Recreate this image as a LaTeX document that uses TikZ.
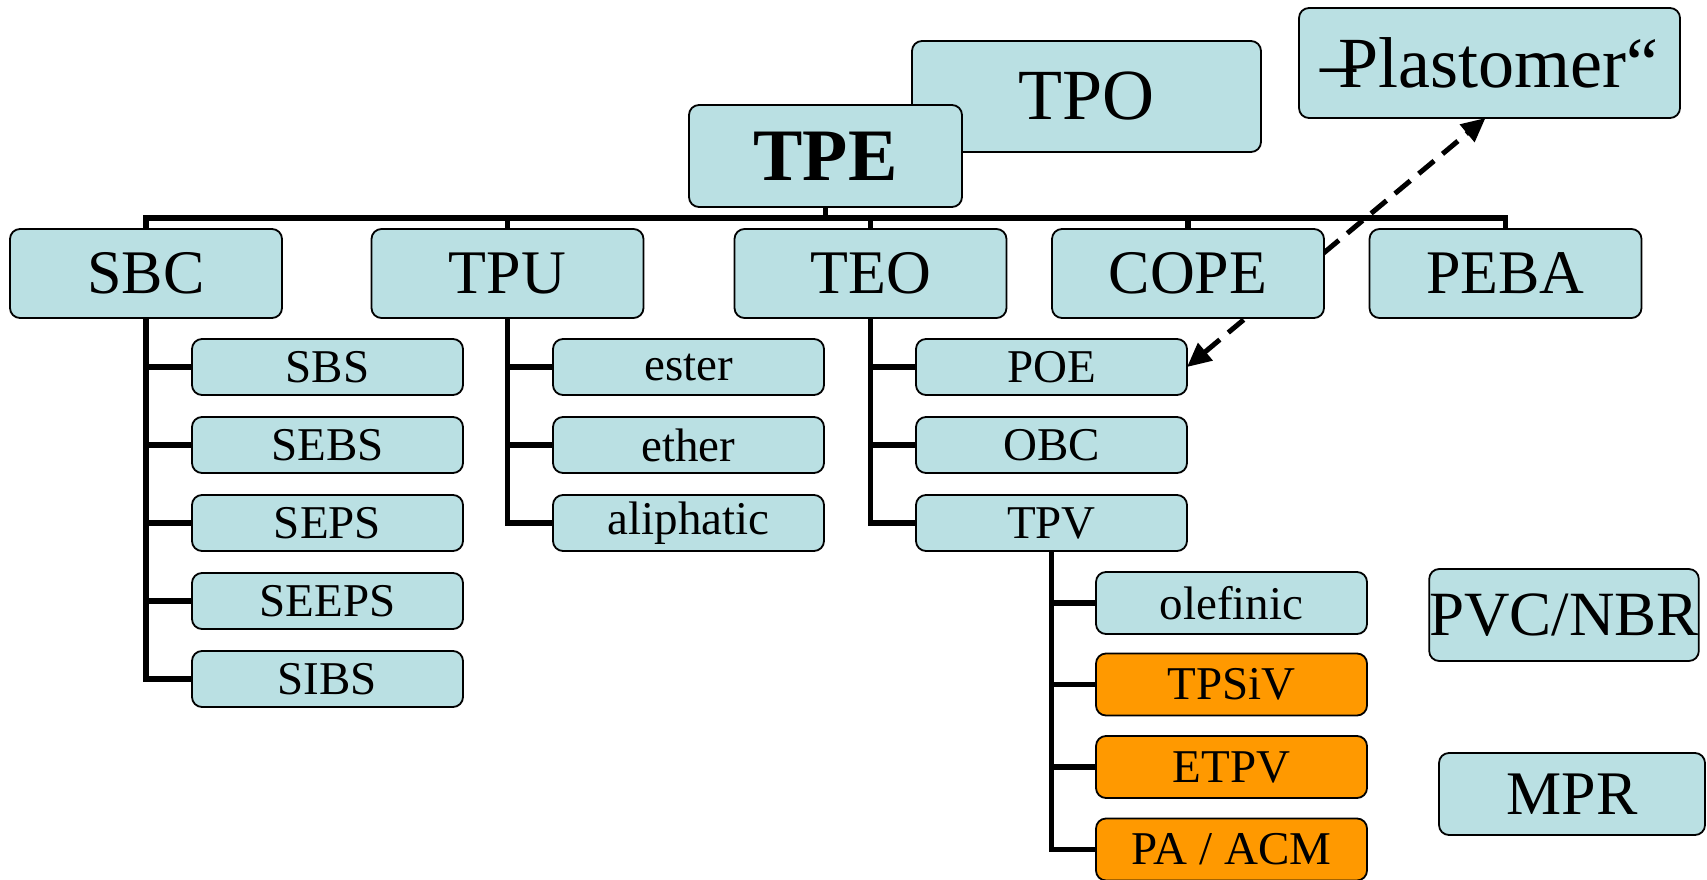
\documentclass[tikz,border=0pt]{standalone}
\usepackage{fontspec}
\setmainfont{Liberation Serif}
\usetikzlibrary{arrows.meta,backgrounds}
\definecolor{boxblue}{RGB}{186,224,227}
\definecolor{boxorange}{RGB}{255,153,0}
\tikzset{
  base/.style={draw=black, line width=1.8pt, rounded corners=10pt, fill=boxblue,
    inner sep=0pt, outer sep=0pt, align=center, text=black},
  lvlone/.style={base, minimum width=272pt, minimum height=89pt, font=\fontsize{62}{62}\selectfont},
  lvltwo/.style={base, minimum width=271pt, minimum height=56pt, font=\fontsize{47}{47}\selectfont},
  lvlthree/.style={base, minimum width=271pt, minimum height=62pt, font=\fontsize{47}{47}\selectfont},
  orangebox/.style={fill=boxorange},
  conn/.style={draw=black, line width=5.5pt},
  dasharrow/.style={draw=black, line width=5pt, dash pattern=on 20pt off 11pt,
    {Triangle[length=24pt,width=22pt]}-{Triangle[length=24pt,width=22pt]}}
}
\begin{document}
\begin{tikzpicture}[x=1pt,y=-1pt]
\useasboundingbox (0,0) rectangle (1707,880);
\begin{scope}
\clip (0,0) rectangle (1707,880);
% top boxes
\node[base, minimum width=349pt, minimum height=111pt, font=\fontsize{72}{72}\selectfont] (TPO) at (1086.5,96.5) {TPO};
\node[base, minimum width=273pt, minimum height=102pt, font=\fontsize{74}{74}\selectfont\bfseries] (TPE) at (825.5,156) {TPE};
\node[base, minimum width=381pt, minimum height=110pt, font=\fontsize{72}{72}\selectfont] (Plast) at (1489.5,63) {–\kern-0.25em Plastomer“};
% level one
\node[lvlone] (SBC) at (146,273.5) {SBC};
\node[lvlone] (TPU) at (507.5,273.5) {TPU};
\node[lvlone] (TEO) at (870.5,273.5) {TEO};
\node[lvlone] (COPE) at (1188,273.5) {COPE};
\node[lvlone] (PEBA) at (1505.5,273.5) {PEBA};
% SBC children
\node[lvltwo] (SBS) at (327.5,367) {SBS};
\node[lvltwo] (SEBS) at (327.5,445) {SEBS};
\node[lvltwo] (SEPS) at (327.5,523) {SEPS};
\node[lvltwo] (SEEPS) at (327.5,601) {SEEPS};
\node[lvltwo] (SIBS) at (327.5,679) {SIBS};
% TPU children
\node[lvltwo] (ester) at (688.5,367) {ester};
\node[lvltwo] (ether) at (688.5,445) {ether};
\node[lvltwo] (aliph) at (688.5,523) {aliphatic};
% TEO children
\node[lvltwo] (POE) at (1051.5,367) {POE};
\node[lvltwo] (OBC) at (1051.5,445) {OBC};
\node[lvltwo] (TPV) at (1051.5,523) {TPV};
% TPV children
\node[lvlthree] (olef) at (1231.5,603) {olefinic};
\node[lvlthree, orangebox] (TPSiV) at (1231.5,684.5) {TPSiV};
\node[lvlthree, orangebox] (ETPV) at (1231.5,767) {ETPV};
\node[lvlthree, orangebox] (PAACM) at (1231.5,849.5) {PA / ACM};
% side boxes
\node[base, minimum width=264pt, minimum height=92pt, font=\fontsize{63}{63}\selectfont] (PVC) at (1564,615) {PVC/NBR};
\node[base, minimum width=266pt, minimum height=82pt, font=\fontsize{62}{62}\selectfont] (MPR) at (1572,794) {MPR};
\coordinate (bus) at (0,218);
\begin{scope}[on background layer]
  % bus
  \draw[conn] (TPE.south) -- (TPE.south |- bus);
  \draw[conn] (SBC.north) -- (SBC.north |- bus) -- (PEBA.north |- bus) -- (PEBA.north);
  \draw[conn] (TPU.north) -- (TPU.north |- bus);
  \draw[conn] (TEO.north) -- (TEO.north |- bus);
  \draw[conn] (COPE.north) -- (COPE.north |- bus);
  % SBC tree
  \draw[conn] (SBC.south) |- (SIBS.west);
  \foreach \n in {SBS,SEBS,SEPS,SEEPS} \draw[conn] (SBC.south |- \n.west) -- (\n.west);
  % TPU tree
  \draw[conn] (TPU.south) |- (aliph.west);
  \foreach \n in {ester,ether} \draw[conn] (TPU.south |- \n.west) -- (\n.west);
  % TEO tree
  \draw[conn] (TEO.south) |- (TPV.west);
  \foreach \n in {POE,OBC} \draw[conn] (TEO.south |- \n.west) -- (\n.west);
  % TPV tree
  \draw[conn] (TPV.south) |- (PAACM.west);
  \foreach \n in {olef,TPSiV,ETPV} \draw[conn] (TPV.south |- \n.west) -- (\n.west);
  % dashed arrow
  \draw[dasharrow] (POE.east) -- ([xshift=-4pt]Plast.south);
\end{scope}
\end{scope}
\end{tikzpicture}
\end{document}
